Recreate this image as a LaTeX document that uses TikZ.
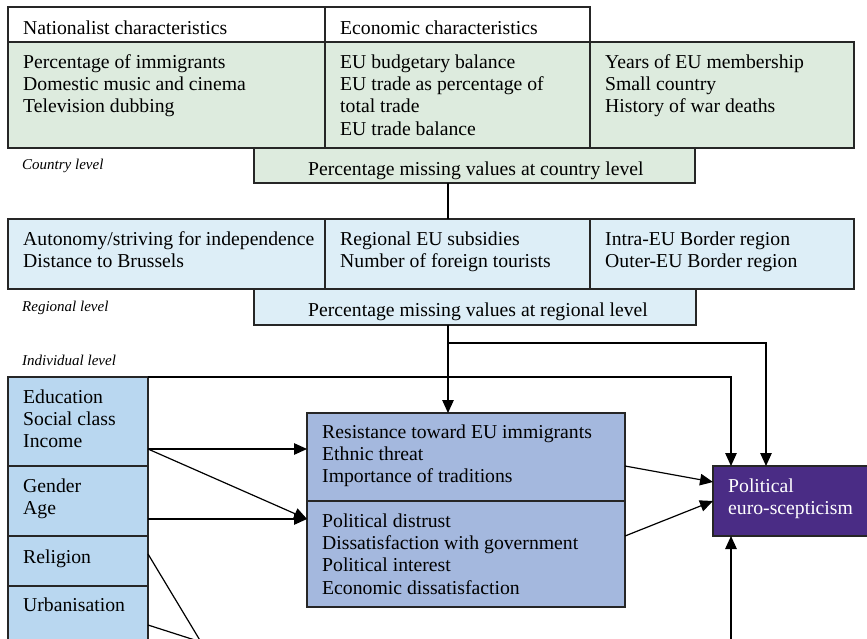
\documentclass[tikz,border=0pt]{standalone}
\usepackage{fontspec}
\setmainfont{Liberation Serif}
\usetikzlibrary{arrows.meta,calc}
\definecolor{cgreen}{HTML}{DDEBDE}
\definecolor{creg}{HTML}{DDEEF7}
\definecolor{cind}{HTML}{B9D7F0}
\definecolor{cmed}{HTML}{A4B8DE}
\definecolor{ceuro}{HTML}{4A2C85}
\definecolor{cedge}{HTML}{262626}
\tikzset{
  bx/.style={draw=cedge, line width=1.2pt, anchor=north west, inner sep=0pt, outer sep=0pt},
  tx/.style={anchor=north west, inner sep=0pt, align=left, font=\fontsize{19.7}{22.3}\selectfont},
  lv/.style={anchor=base west, inner sep=0pt, font=\fontsize{15}{17}\selectfont\itshape},
  ln/.style={line width=1.2pt, draw=black},
  ar/.style={ln, -{Triangle[length=13pt,width=11.5pt]}},
}
\newcommand\fl{\rule{0pt}{14pt}}
\begin{document}
\begin{tikzpicture}[x=1pt,y=-1pt]
\useasboundingbox (0,0) rectangle (867,639);
\clip (0,0) rectangle (867,639);
% header row
\node[bx, fill=white, minimum width=317pt, minimum height=35pt] (hnat) at (8,7) {};
\node[bx, fill=white, minimum width=265pt, minimum height=35pt] (heco) at (325,7) {};
% country row
\node[bx, fill=cgreen, minimum width=317pt, minimum height=106pt] (nat) at (8,42) {};
\node[bx, fill=cgreen, minimum width=265pt, minimum height=106pt] (eco) at (325,42) {};
\node[bx, fill=cgreen, minimum width=264pt, minimum height=106pt] (hist) at (590,42) {};
\node[bx, fill=cgreen, minimum width=441pt, minimum height=35pt] (cmiss) at (254,148) {};
% regional row
\node[bx, fill=creg, minimum width=317pt, minimum height=70pt] (auto) at (8,219) {};
\node[bx, fill=creg, minimum width=265pt, minimum height=70pt] (subs) at (325,219) {};
\node[bx, fill=creg, minimum width=264pt, minimum height=70pt] (border) at (590,219) {};
\node[bx, fill=creg, minimum width=442pt, minimum height=36pt] (rmiss) at (254,289) {};
% individual level
\node[bx, fill=cind, minimum width=140pt, minimum height=89pt] (edu) at (8,377) {};
\node[bx, fill=cind, minimum width=140pt, minimum height=70pt] (gen) at (8,466) {};
\node[bx, fill=cind, minimum width=140pt, minimum height=50pt] (rel) at (8,536) {};
\node[bx, fill=cind, minimum width=140pt, minimum height=80pt] (urb) at (8,586) {};
\node[bx, fill=cmed, minimum width=318pt, minimum height=88pt] (res) at (307,413) {};
\node[bx, fill=cmed, minimum width=318pt, minimum height=106pt] (dis) at (307,501) {};
\node[bx, fill=ceuro, minimum width=170pt, minimum height=70pt] (euro) at (713,466) {};
% texts
\node[tx] (t1) at (23,20) {\fl Nationalist characteristics};
\node[tx] (t2) at (340,20) {\fl Economic characteristics};
\node[tx] (t3) at (23,54) {\fl Percentage of immigrants\\Domestic music and cinema\\Television dubbing};
\node[tx] (t4) at (340,54) {\fl EU budgetary balance\\EU trade as percentage of\\total trade\\EU trade balance};
\node[tx] (t5) at (605,54) {\fl Years of EU membership\\Small country\\History of war deaths};
\node[tx] (t6) at (308,161) {\fl Percentage missing values at country level};
\node[lv] (l1) at (22,170) {Country level};
\node[tx] (t7) at (23,231) {\fl Autonomy/striving for independence\\Distance to Brussels};
\node[tx] (t8) at (340,231) {\fl Regional EU subsidies\\Number of foreign tourists};
\node[tx] (t9) at (605,231) {\fl Intra-EU Border region\\Outer-EU Border region};
\node[tx] (t10) at (308,302) {\fl Percentage missing values at regional level};
\node[lv] (l2) at (22,311) {Regional level};
\node[lv] (l3) at (22,365) {Individual level};
\node[tx] (t11) at (23,389) {\fl Education\\Social class\\Income};
\node[tx] (t12) at (23,478) {\fl Gender\\Age};
\node[tx] (t13) at (23,549) {\fl Religion};
\node[tx] (t14) at (23,597) {\fl Urbanisation};
\node[tx] (t15) at (322,424) {\fl Resistance toward EU immigrants\\Ethnic threat\\Importance of traditions};
\node[tx] (t16) at (322,513) {\fl Political distrust\\Dissatisfaction with government\\Political interest\\Economic dissatisfaction};
\node[tx, text=white] (t17) at (728,478) {\fl Political\\euro-scepticism};
% connectors
\coordinate (xa) at (448,0);
\coordinate (xb) at (766,0);
\coordinate (xc) at (731,0);
\coordinate (meet) at (201,642);
\coordinate (bot) at (731,660);
\draw[ln] (cmiss.south -| xa) -- (subs.north -| xa);
\draw[ar] (rmiss.south -| xa) -- (res.north -| xa);
\draw[ar] (xa |- 0,343) -| (euro.north -| xb);
\draw[ar] (edu.north east) -| (euro.north -| xc);
\draw[ar] ($(edu.south east)+(0,-17)$) coordinate (eo) -- (res.west |- eo);
\draw[ar] (eo) -- ($(dis.north west)+(0,18)$);
\draw[ar] ($(gen.north east)+(0,53)$) coordinate (go) -- (dis.west |- go);
\draw[ar] ($(res.north east)+(0,53)$) -- ($(euro.north west)+(0,16)$);
\draw[ar] ($(dis.north east)+(0,35)$) -- ($(euro.north west)+(0,35)$);
\draw[ln] ($(rel.north east)+(0,18)$) -- (meet);
\draw[ln] ($(urb.north east)+(0,39)$) -- (meet);
\draw[ar] (bot) -- (euro.south -| xc);
\end{tikzpicture}
\end{document}
